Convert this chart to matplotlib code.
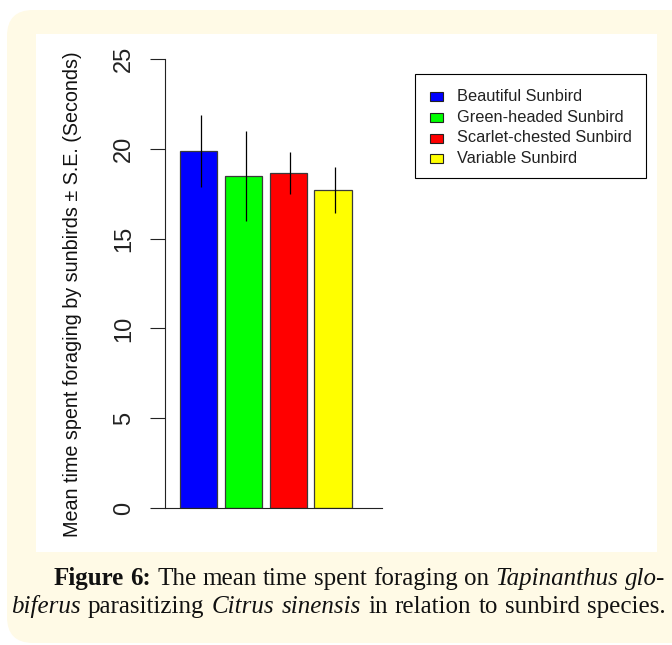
import matplotlib
matplotlib.use("Agg")
from matplotlib import pyplot as plt
from matplotlib.patches import FancyBboxPatch, Rectangle
from matplotlib.transforms import IdentityTransform

# data
species = ["Beautiful Sunbird", "Green-headed Sunbird", "Scarlet-chested Sunbird", "Variable Sunbird"]
mean_time = [19.9, 18.5, 18.65, 17.7]
se_time = [2.0, 2.5, 1.15, 1.27]
bar_colors = ["#0000ff", "#00ff00", "#ff0000", "#ffff00"]
y_ticks = [0, 5, 10, 15, 20, 25]
y_label = "Mean time spent foraging by sunbirds \u00b1 S.E. (Seconds)"

caption_line1 = [("Figure", "bold", "normal"), ("6:", "bold", "normal"),
                 ("The", "normal", "normal"), ("mean", "normal", "normal"),
                 ("time", "normal", "normal"), ("spent", "normal", "normal"),
                 ("foraging", "normal", "normal"), ("on", "normal", "normal"),
                 ("Tapinanthus", "normal", "italic"), ("glo-", "normal", "italic")]
caption_line2 = [("biferus", "normal", "italic"), ("parasitizing", "normal", "normal"),
                 ("Citrus", "normal", "italic"), ("sinensis", "normal", "italic"),
                 ("in", "normal", "normal"), ("relation", "normal", "normal"),
                 ("to", "normal", "normal"), ("sunbird", "normal", "normal"),
                 ("species.", "normal", "normal")]

plt.rcParams['font.family'] = ['Liberation Sans', 'DejaVu Sans']

W, H = 672, 645
fig = plt.figure(figsize=(W / 100, H / 100), dpi=100)
fig.patch.set_facecolor("white")
px = IdentityTransform()

# cream rounded card and white plot panel
card = FancyBboxPatch((7, H - 643), 720, 633, boxstyle="round,pad=0,rounding_size=26",
                      transform=px, facecolor="#fffae6", edgecolor="none", zorder=-3)
fig.add_artist(card)
panel = Rectangle((36, H - 552), 621, 518, transform=px, facecolor="white",
                  edgecolor="none", zorder=-2)
fig.add_artist(panel)

# axes placed in pixel terms
ax_l, ax_r, ax_t, ax_b = 165.3, 382, 59, 508
ax = fig.add_axes([ax_l / W, (H - ax_b) / H, (ax_r - ax_l) / W, (ax_b - ax_t) / H])
ax.set_facecolor("none")

x_left = [0.2 + 1.2 * i for i in range(len(species))]
centers = [x + 0.5 for x in x_left]
ax.bar(centers, mean_time, width=1.0, color=bar_colors, edgecolor="#3a3a3a", linewidth=0.9, zorder=2)
ax.errorbar([c + 0.06 for c in centers], mean_time, yerr=se_time, fmt="none",
            ecolor="black", elinewidth=0.9, capsize=0, zorder=3)

ax.set_xlim(-0.2, -0.2 + (ax_r - ax_l) / 37.26)
ax.set_ylim(0, 25)
for s in ["top", "right"]:
    ax.spines[s].set_visible(False)
for s in ["left", "bottom"]:
    ax.spines[s].set_linewidth(0.8)
    ax.spines[s].set_color("#222222")
ax.set_xticks([])
ax.set_yticks(y_ticks)
ax.tick_params(axis="y", length=10.8, width=0.8, color="#222222", pad=11, labelsize=17)
for lab in ax.get_yticklabels():
    lab.set_rotation(90)
    lab.set_va("center")
    lab.set_color("#222222")

ax.set_ylabel(y_label, fontsize=14.2, color="#111111")
ax.yaxis.set_label_coords((82 - ax_l) / (ax_r - ax_l), (ax_b - 294) / (ax_b - ax_t))

# legend box
fig.add_artist(Rectangle((415, H - 178), 231, 104, transform=px, facecolor="white",
                         edgecolor="black", linewidth=0.8))
row_y = [96.5, 117.3, 138, 158.7]
for name, col, yy in zip(species, bar_colors, row_y):
    fig.add_artist(Rectangle((430, H - yy - 4.5), 12.7, 9, transform=px, facecolor=col,
                             edgecolor="#222222", linewidth=0.8))
    fig.text(457, H - yy, name, transform=px, fontsize=11.8, va="center", ha="left", color="#222222")

# justified caption
renderer = fig.canvas.get_renderer()
serif = ["Liberation Serif", "DejaVu Serif"]


def make_words(words, size):
    texts = []
    for w, weight, style in words:
        texts.append(fig.text(0, 0, w, transform=px, fontsize=size, family=serif,
                              fontweight=weight, fontstyle=style, va="baseline", color="#111111"))
    widths = [t.get_window_extent(renderer).width for t in texts]
    return texts, widths


lines = [(caption_line1, 53.5, 665, 585), (caption_line2, 11, 666, 613)]

# pick one size that lets both lines fit with sensible spacing
size = 19.0
while size > 10:
    ok = True
    for words, x0, x1, base in lines:
        texts, widths = make_words(words, size)
        for t in texts:
            t.remove()
        gap = (x1 - x0 - sum(widths)) / (len(words) - 1)
        if gap < 0.24 * size * 100 / 72:
            ok = False
    if ok:
        break
    size -= 0.25

for words, x0, x1, base in lines:
    texts, widths = make_words(words, size)
    gap = (x1 - x0 - sum(widths)) / (len(texts) - 1)
    x = x0
    for t, w in zip(texts, widths):
        t.set_position((x, H - base))
        x += w + gap

fig.savefig("out.png", dpi=100)
